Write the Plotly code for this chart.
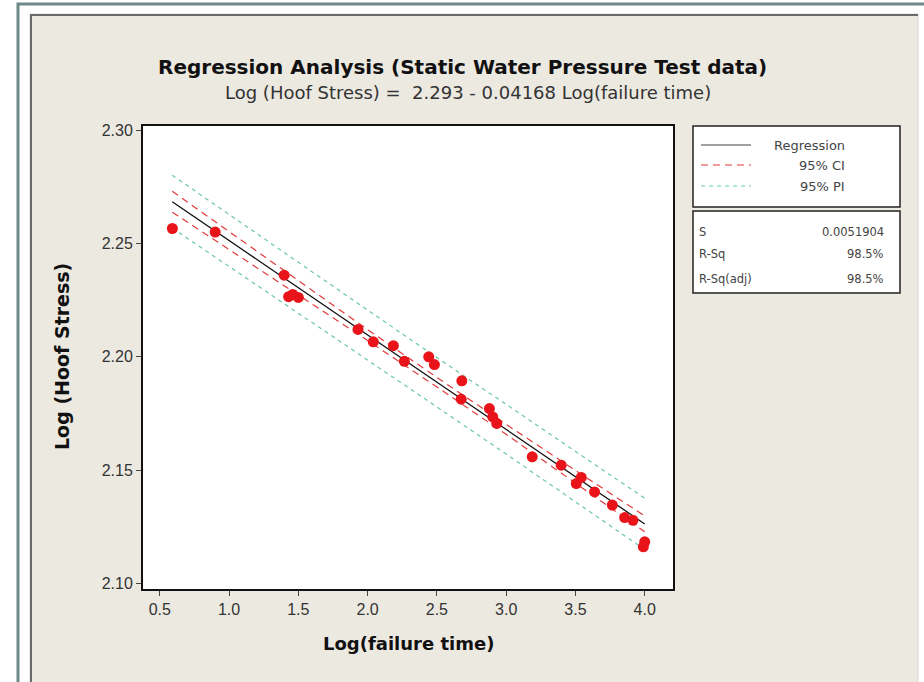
import plotly.graph_objects as go

# ---------------- data ----------------
log_time = [0.591, 0.900, 1.398, 1.430, 1.460, 1.500, 1.931, 2.041, 2.186, 2.265,
            2.441, 2.482, 2.680, 2.675, 2.879, 2.903, 2.932, 3.188, 3.397, 3.506,
            3.542, 3.638, 3.766, 3.855, 3.915, 4.000, 3.990]
log_stress = [2.2566, 2.2550, 2.2360, 2.2265, 2.2275, 2.2262, 2.2121, 2.2066, 2.2049, 2.1980,
              2.2000, 2.1966, 2.1894, 2.1813, 2.1772, 2.1735, 2.1706, 2.1559, 2.1522, 2.1441,
              2.1468, 2.1404, 2.1346, 2.1291, 2.1279, 2.1184, 2.1162]

band_x = [0.59, 1.0, 1.5, 2.0, 2.5, 3.0, 3.5, 4.0]
fit_y = [2.2684, 2.2513, 2.2305, 2.2096, 2.1888, 2.1680, 2.1471, 2.1263]
ci_upper = [2.2730, 2.2552, 2.2336, 2.2120, 2.1909, 2.1702, 2.1499, 2.1298]
ci_lower = [2.2638, 2.2474, 2.2274, 2.2072, 2.1867, 2.1658, 2.1443, 2.1228]
pi_upper = [2.2801, 2.2627, 2.2416, 2.2206, 2.1997, 2.1789, 2.1581, 2.1376]
pi_lower = [2.2568, 2.2399, 2.2194, 2.1986, 2.1779, 2.1571, 2.1361, 2.1150]

x_ticks = [0.5, 1.0, 1.5, 2.0, 2.5, 3.0, 3.5, 4.0]
x_tick_labels = ["0.5", "1.0", "1.5", "2.0", "2.5", "3.0", "3.5", "4.0"]
y_ticks = [2.10, 2.15, 2.20, 2.25, 2.30]
y_tick_labels = ["2.10", "2.15", "2.20", "2.25", "2.30"]

title_text = "Regression Analysis (Static Water Pressure Test data)"
subtitle_text = "Log (Hoof Stress) =  2.293 - 0.04168 Log(failure time)"
x_title = "Log(failure time)"
y_title = "Log (Hoof Stress)"
legend_labels = ["Regression", "95% CI", "95% PI"]
stat_names = ["S", "R-Sq", "R-Sq(adj)"]
stat_values = ["0.0051904", "98.5%", "98.5%"]

# ---------------- styling ----------------
W, H = 924, 682
ML, MR, MT, MB = 143, 251, 126, 93
PW, PH = W - ML - MR, H - MT - MB

SANS = "Liberation Sans, Arial, sans-serif"
WIDE = "DejaVu Sans, Verdana, sans-serif"

RED = "#e8141a"
CI_COL = "#e03a3a"
PI_COL = "#6cc9a2"


def px_x(px):
    return (px - ML) / PW


def px_y(py):
    return (H - MB - py) / PH


fig = go.Figure()

fig.add_trace(go.Scatter(x=band_x, y=pi_upper, mode="lines",
                         line=dict(color=PI_COL, width=1.2, dash="4px,4px"), hoverinfo="skip"))
fig.add_trace(go.Scatter(x=band_x, y=pi_lower, mode="lines",
                         line=dict(color=PI_COL, width=1.2, dash="4px,4px"), hoverinfo="skip"))
fig.add_trace(go.Scatter(x=band_x, y=ci_upper, mode="lines",
                         line=dict(color=CI_COL, width=1.2, dash="7px,5px"), hoverinfo="skip"))
fig.add_trace(go.Scatter(x=band_x, y=ci_lower, mode="lines",
                         line=dict(color=CI_COL, width=1.2, dash="7px,5px"), hoverinfo="skip"))
fig.add_trace(go.Scatter(x=band_x, y=fit_y, mode="lines",
                         line=dict(color="#111111", width=1.3), hoverinfo="skip"))
fig.add_trace(go.Scatter(x=log_time, y=log_stress, mode="markers",
                         marker=dict(color=RED, size=11, line=dict(width=0))))

shapes = []
annotations = []

# outer page frame
shapes.append(dict(type="rect", xref="paper", yref="paper",
                   x0=px_x(18), x1=px_x(940), y0=px_y(700), y1=px_y(4),
                   line=dict(color="#6f8888", width=3), fillcolor="white", layer="below"))
shapes.append(dict(type="rect", xref="paper", yref="paper",
                   x0=px_x(30), x1=px_x(918), y0=px_y(700), y1=px_y(14),
                   line=dict(color="#d8d6cf", width=1), fillcolor="#ece9e1", layer="below"))
shapes.append(dict(type="line", xref="paper", yref="paper",
                   x0=px_x(31), x1=px_x(31), y0=px_y(700), y1=px_y(14),
                   line=dict(color="#6a6a6a", width=2), layer="below"))
shapes.append(dict(type="line", xref="paper", yref="paper",
                   x0=px_x(31), x1=px_x(918), y0=px_y(15), y1=px_y(15),
                   line=dict(color="#6a6a6a", width=2), layer="below"))
# white plot area
shapes.append(dict(type="rect", xref="paper", yref="paper", x0=0, x1=1, y0=0, y1=1,
                   line=dict(width=0), fillcolor="white", layer="below"))

# legend boxes
shapes.append(dict(type="rect", xref="paper", yref="paper",
                   x0=px_x(693), x1=px_x(900), y0=px_y(207), y1=px_y(126),
                   line=dict(color="#222222", width=1.5), fillcolor="white"))
shapes.append(dict(type="rect", xref="paper", yref="paper",
                   x0=px_x(693), x1=px_x(900), y0=px_y(293), y1=px_y(211),
                   line=dict(color="#222222", width=1.5), fillcolor="white"))

leg_y = [145, 165, 186]
leg_styles = [dict(color="#444444", width=1.2),
              dict(color=CI_COL, width=1.2, dash="7px,5px"),
              dict(color=PI_COL, width=1.2, dash="4px,4px")]
for lab, yy, st in zip(legend_labels, leg_y, leg_styles):
    shapes.append(dict(type="line", xref="paper", yref="paper",
                       x0=px_x(701), x1=px_x(751), y0=px_y(yy), y1=px_y(yy), line=st))
    annotations.append(dict(xref="paper", yref="paper", x=px_x(847), y=px_y(yy),
                            text=lab, showarrow=False, xanchor="right", yanchor="middle",
                            font=dict(family=WIDE, size=13, color="#444444")))

stat_y = [232, 254, 279]
for nm, val, yy in zip(stat_names, stat_values, stat_y):
    annotations.append(dict(xref="paper", yref="paper", x=px_x(697), y=px_y(yy),
                            text=nm, showarrow=False, xanchor="left", yanchor="middle",
                            font=dict(family=WIDE, size=11.5, color="#444444")))
    annotations.append(dict(xref="paper", yref="paper", x=px_x(886), y=px_y(yy),
                            text=val, showarrow=False, xanchor="right", yanchor="middle",
                            font=dict(family=WIDE, size=11.5, color="#444444")))

# titles
annotations.append(dict(xref="paper", yref="paper", x=px_x(462), y=px_y(67),
                        text="<b>" + title_text + "</b>", showarrow=False,
                        xanchor="center", yanchor="middle",
                        font=dict(family=WIDE, size=20, color="#111111")))
annotations.append(dict(xref="paper", yref="paper", x=px_x(468), y=px_y(92),
                        text=subtitle_text, showarrow=False,
                        xanchor="center", yanchor="middle",
                        font=dict(family=WIDE, size=18, color="#333333")))
annotations.append(dict(xref="paper", yref="paper", x=px_x(408), y=px_y(643),
                        text="<b>" + x_title + "</b>", showarrow=False,
                        xanchor="center", yanchor="middle",
                        font=dict(family=WIDE, size=18, color="#111111")))
annotations.append(dict(xref="paper", yref="paper", x=px_x(62), y=px_y(357),
                        text="<b>" + y_title + "</b>", showarrow=False, textangle=-90,
                        xanchor="center", yanchor="middle",
                        font=dict(family=WIDE, size=19, color="#111111")))

fig.update_layout(
    width=W, height=H,
    margin=dict(l=ML, r=MR, t=MT, b=MB, pad=0),
    paper_bgcolor="white",
    plot_bgcolor="white",
    showlegend=False,
    shapes=shapes,
    annotations=annotations,
)

fig.update_xaxes(range=[0.379, 4.204], tickmode="array", tickvals=x_ticks, ticktext=x_tick_labels,
                 showgrid=False, zeroline=False, showline=True, mirror=True,
                 linecolor="#111111", linewidth=2, ticks="outside", ticklen=5, tickwidth=1,
                 tickcolor="#444444",
                 tickfont=dict(family=SANS, size=16, color="#333333"))
fig.update_yaxes(range=[2.0976, 2.3018], tickmode="array", tickvals=y_ticks, ticktext=y_tick_labels,
                 showgrid=False, zeroline=False, showline=True, mirror=True,
                 linecolor="#111111", linewidth=2, ticks="outside", ticklen=5, tickwidth=1,
                 tickcolor="#444444",
                 tickfont=dict(family=SANS, size=16, color="#333333"))

fig.write_html("out.html")
